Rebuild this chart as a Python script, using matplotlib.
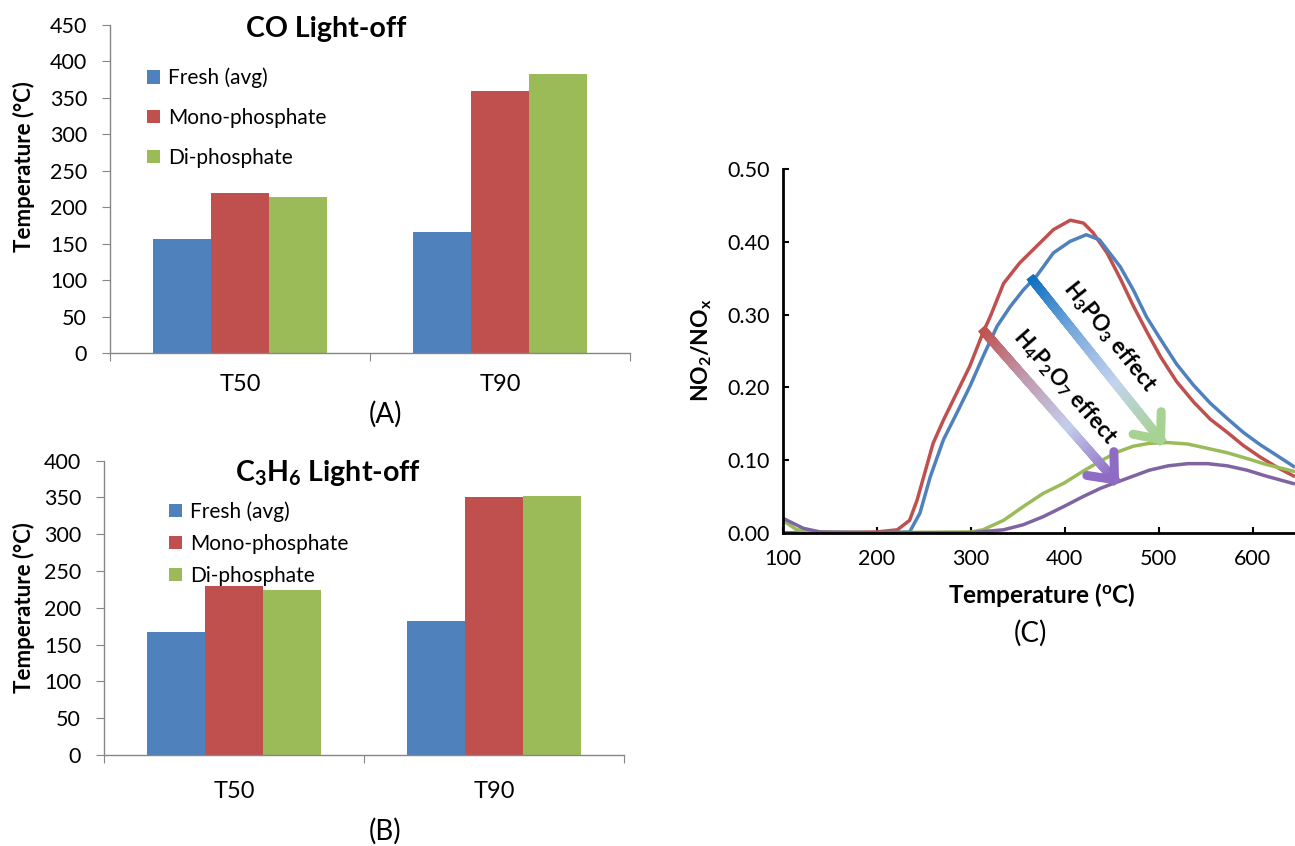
import numpy as np
import matplotlib
matplotlib.use("Agg")
import matplotlib.pyplot as plt
import matplotlib.colors as mcolors
from matplotlib.collections import LineCollection

plt.rcParams["font.family"] = ["Lato", "DejaVu Sans"]
plt.rcParams["mathtext.fontset"] = "custom"
plt.rcParams["mathtext.rm"] = "Lato"
plt.rcParams["mathtext.it"] = "Lato:italic"
plt.rcParams["mathtext.bf"] = "Lato:bold"

# ── bar data: light-off temperatures (°C) ─────────────────────
categories = ["T50", "T90"]
series = ["Fresh (avg)", "Mono-phosphate", "Di-phosphate"]
co_fresh = [156, 166]
co_mono = [219, 359]
co_di = [214, 383]
c3h6_fresh = [167, 182]
c3h6_mono = [229, 350]
c3h6_di = [224, 352]
bar_colors = ["#4F81BD", "#C0504D", "#9BBB59"]

# ── NO2/NOx vs temperature ───────────────────────────────────
red_T = [100, 150, 200, 222, 235, 243, 250, 260, 271, 285, 299, 313, 321, 335, 352,
         370, 388, 406, 420, 430, 445, 459, 473, 488, 502, 519, 537, 555, 573, 590,
         608, 626, 645]
red_y = [0.000, 0.000, 0.001, 0.004, 0.017, 0.045, 0.077, 0.123, 0.155, 0.192, 0.229,
         0.275, 0.298, 0.343, 0.371, 0.394, 0.417, 0.430, 0.426, 0.413, 0.385, 0.350,
         0.312, 0.275, 0.242, 0.208, 0.180, 0.156, 0.138, 0.120, 0.104, 0.090, 0.077]
blue_T = [100, 150, 200, 235, 246, 257, 271, 285, 299, 313, 328, 342, 356, 370, 388,
          406, 423, 437, 459, 473, 487, 501, 519, 537, 555, 573, 590, 608, 626, 645]
blue_y = [0.000, 0.000, 0.000, 0.001, 0.027, 0.077, 0.128, 0.164, 0.201, 0.242, 0.284,
          0.311, 0.334, 0.353, 0.385, 0.401, 0.410, 0.403, 0.366, 0.334, 0.297, 0.268,
          0.232, 0.203, 0.178, 0.157, 0.138, 0.121, 0.106, 0.090]
green_T = [100, 115, 140, 200, 300, 313, 335, 356, 377, 399, 420, 440, 456, 473, 490,
           510, 531, 552, 573, 594, 614, 645]
green_y = [0.017, 0.004, 0.001, 0.000, 0.001, 0.004, 0.017, 0.036, 0.054, 0.068, 0.085,
           0.100, 0.111, 0.119, 0.123, 0.124, 0.122, 0.116, 0.110, 0.102, 0.094, 0.084]
purple_T = [100, 122, 140, 200, 300, 335, 356, 377, 399, 420, 438, 448, 469, 490, 510,
            531, 552, 573, 594, 614, 645]
purple_y = [0.020, 0.006, 0.001, 0.000, 0.000, 0.004, 0.011, 0.022, 0.036, 0.050, 0.061,
            0.066, 0.076, 0.086, 0.092, 0.095, 0.095, 0.092, 0.086, 0.078, 0.067]

W, H = 1295, 846
fig = plt.figure(figsize=(W / 100, H / 100), dpi=100)


def px_axes(left, top, right, bottom):
    return fig.add_axes([left / W, 1 - bottom / H, (right - left) / W, (bottom - top) / H])


def bar_panel(ax, vals, ymax, leg_anchor, leg_spacing, cat_pad):
    x = np.arange(len(categories))
    w = 0.223
    for i, (v, c, lab) in enumerate(zip(vals, bar_colors, series)):
        ax.bar(x + (i - 1) * w, v, w, color=c, label=lab, zorder=2)
    ax.set_xlim(-0.5, 1.5)
    ax.set_ylim(0, ymax)
    ax.set_yticks(np.arange(0, ymax + 1, 50))
    ax.set_xticks([-0.5, 0.5, 1.5])
    ax.set_xticklabels([])
    ax.set_xticks(x, minor=True)
    ax.set_xticklabels(categories, minor=True, fontsize=17)
    ax.tick_params(axis="x", which="minor", length=0, pad=cat_pad)
    ax.tick_params(axis="x", which="major", direction="out", length=5.5, color="#868686")
    ax.tick_params(axis="y", direction="out", length=5.5, color="#868686",
                   labelsize=15.5, pad=11)
    for s in ("top", "right"):
        ax.spines[s].set_visible(False)
    for s in ("left", "bottom"):
        ax.spines[s].set_color("#868686")
        ax.spines[s].set_linewidth(1.0)
    ax.legend(loc="upper left", bbox_to_anchor=leg_anchor, frameon=False,
              fontsize=15, handlelength=0.62, handleheight=0.62, handletextpad=0.4,
              labelspacing=leg_spacing, borderpad=0, borderaxespad=0)


axA = px_axes(110, 25, 630, 353)
bar_panel(axA, [co_fresh, co_mono, co_di], 450, (0.071, 0.87), 0.95, 15)
axB = px_axes(104, 460.5, 624, 755)
bar_panel(axB, [c3h6_fresh, c3h6_mono, c3h6_di], 400, (0.125, 0.862), 0.58, 19)

fig.text(326 / W, 1 - 29 / H, "CO Light-off", ha="center", va="center",
         fontsize=20.5, fontweight="bold")
fig.text(328 / W, 1 - 473 / H, r"C$_\mathbf{3}$H$_\mathbf{6}$ Light-off", ha="center",
         va="center", fontsize=20.5, fontweight="bold")
for yc in (167, 608):
    fig.text(24 / W, 1 - yc / H, "Temperature (°C)", rotation=90, ha="center",
             va="center", fontsize=16, fontweight="bold")
fig.text(385 / W, 1 - 414 / H, "(A)", ha="center", va="center", fontsize=20)
fig.text(385 / W, 1 - 831 / H, "(B)", ha="center", va="center", fontsize=20)

# ── panel C ──────────────────────────────────────────────────
axC = px_axes(782.7, 169.3, W, 532.7)
xmax = 100 + (W - 782.7) / 94.0 * 100
axC.set_xlim(100, xmax)
axC.set_ylim(0, 0.5)
for T, y, c in ((red_T, red_y, "#C0504D"), (blue_T, blue_y, "#4F81BD"),
                (green_T, green_y, "#9BBB59"), (purple_T, purple_y, "#8064A2")):
    axC.plot(T, y, color=c, lw=2.5, zorder=2, solid_capstyle="butt")
axC.set_xticks(np.arange(100, 700, 100))
axC.set_yticks(np.arange(0, 0.51, 0.1))
axC.yaxis.set_major_formatter(matplotlib.ticker.FormatStrFormatter("%.2f"))
axC.tick_params(direction="in", length=4.5, width=1.5, labelsize=15.5)
axC.tick_params(axis="x", pad=12)
axC.tick_params(axis="y", pad=9)
for s in ("top", "right"):
    axC.spines[s].set_visible(False)
for s in ("left", "bottom"):
    axC.spines[s].set_linewidth(2.0)
    axC.spines[s].set_color("black")

fig.text(1042 / W, 1 - 595 / H, r"Temperature ($^\mathbf{o}$C)", ha="center", va="center",
         fontsize=17.5, fontweight="bold")
fig.text(702 / W, 1 - 350 / H, r"NO$_\mathbf{2}$/NO$_\mathbf{x}$", rotation=90,
         ha="center", va="center", fontsize=16.5, fontweight="bold")
fig.text(1030 / W, 1 - 633 / H, "(C)", ha="center", va="center", fontsize=20)


def gradient_arrow(ax, start, end, stops, lw=6.5, head=28, spread=40):
    """Straight arrow whose colour runs through `stops`, with an open head."""
    tr = ax.transData
    p0, p1 = tr.transform(start), tr.transform(end)
    t = np.linspace(0, 1, 121)
    pts = p0 + (p1 - p0) * t[:, None]
    pts = tr.inverted().transform(pts)
    segs = np.stack([pts[:-1], pts[1:]], axis=1)
    cmap = mcolors.LinearSegmentedColormap.from_list("arr", stops)
    lc = LineCollection(segs, colors=cmap(0.5 * (t[:-1] + t[1:])), linewidths=lw,
                        capstyle="projecting", zorder=4)
    ax.add_collection(lc)
    u = (p0 - p1) / np.hypot(*(p0 - p1))
    for sgn in (1, -1):
        a = np.deg2rad(sgn * spread)
        r = np.array([[np.cos(a), -np.sin(a)], [np.sin(a), np.cos(a)]])
        q = p1 + r @ u * head
        arm = tr.inverted().transform(np.array([p1, q]))
        ax.plot(arm[:, 0], arm[:, 1], color=stops[-1], lw=lw, solid_capstyle="round",
                zorder=5)
    d = p1 - p0
    return np.degrees(np.arctan2(d[1], d[0]))


ang1 = gradient_arrow(axC, (366, 0.3475), (502, 0.128),
                      ["#0B6FC1", "#79A9DC", "#C3D3EE", "#A6D292"])
ang2 = gradient_arrow(axC, (314.5, 0.2765), (453, 0.073),
                      ["#C0504D", "#C09AB0", "#C4CEEC", "#8F6CC4"])
axC.text(447.6, 0.270, r"H$_\mathbf{3}$PO$_\mathbf{3}$ effect", rotation=ang1,
         rotation_mode="anchor", ha="center", va="center", fontsize=16,
         fontweight="bold", zorder=6)
axC.text(399.6, 0.201, r"H$_\mathbf{4}$P$_\mathbf{2}$O$_\mathbf{7}$ effect", rotation=ang2,
         rotation_mode="anchor", ha="center", va="center", fontsize=16,
         fontweight="bold", zorder=6)

fig.savefig("out.png", dpi=100)
